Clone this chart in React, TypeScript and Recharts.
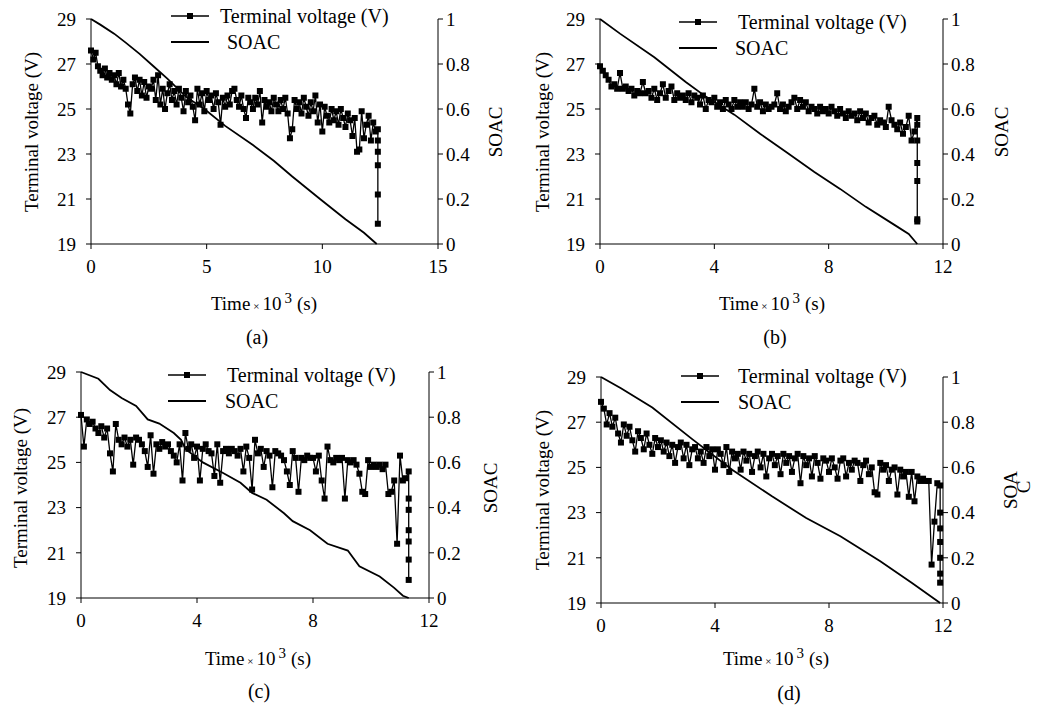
import React from 'react'
import { ComposedChart, Line, XAxis, YAxis } from 'recharts'

const DT = 0.1 // sampling step of the voltage records, x10^3 s

const voltTicks = [19, 21, 23, 25, 27, 29]
const soacTicks = [0, 0.2, 0.4, 0.6, 0.8, 1]
const timeTicksA = [0, 5, 10, 15]
const timeTicks = [0, 4, 8, 12]

// (a)
const aVolt = [
  27.6, 27.2, 27.5, 26.9, 26.7, 26.5, 26.8, 26.4, 26.6, 26.3,
  26.5, 26.1, 26.6, 26.0, 26.3, 25.9, 25.2, 24.8, 26.1, 26.4,
  25.8, 26.3, 25.6, 26.2, 25.5, 26.0, 25.9, 26.3, 25.4, 26.5,
  25.2, 25.9, 25.0, 25.7, 26.1, 25.4, 25.8, 25.2, 25.9, 25.5,
  24.9, 25.8, 25.3, 25.6, 25.1, 24.5, 25.9, 25.2, 25.7, 24.9,
  25.8, 25.4, 25.6, 25.0, 25.7, 25.3, 24.3, 25.5, 25.1, 25.6,
  25.2, 25.8, 25.9, 25.4, 25.1, 25.6, 25.0, 24.6, 25.5, 25.3,
  25.0, 25.5, 25.2, 25.8, 24.4, 25.4, 25.1, 25.3, 24.9, 25.5,
  25.2, 24.9, 25.4, 25.0, 25.5, 24.8, 23.7, 24.1, 25.4, 25.0,
  25.3, 24.8, 25.5, 25.1, 24.7, 25.3, 24.9, 25.6, 24.4, 25.2,
  24.0, 25.1, 24.7, 24.4, 25.0, 24.5, 24.9, 24.3, 25.0, 24.6,
  24.2, 24.8, 24.5, 23.8, 24.6, 23.1, 23.2, 24.9, 23.7, 24.3,
  24.7, 23.6, 24.4, 24.0,
]
const aEndT = 12.4
const aEndVolt = [24.1, 23.6, 23.1, 22.5, 21.2, 19.9]
const aSoacT = [0, 0.4, 1.0, 1.5, 2.1, 2.7, 3.3, 4.1, 4.9, 5.8, 7.0, 7.9, 8.7, 9.9, 11.0, 11.8, 12.35]
const aSoac = [1, 0.975, 0.935, 0.895, 0.845, 0.79, 0.735, 0.655, 0.6, 0.525, 0.44, 0.37, 0.3, 0.2, 0.11, 0.05, 0]

// (b)
const bVolt = [
  26.9, 26.7, 26.5, 26.3, 26.0, 26.1, 25.9, 26.6, 25.9, 26.0,
  25.8, 25.9, 25.6, 25.8, 25.7, 26.2, 25.7, 25.8, 25.5, 25.9,
  25.4, 25.7, 26.1, 25.5, 25.8, 26.0, 25.4, 25.7, 25.5, 25.6,
  25.4, 25.7, 25.3, 25.6, 25.5, 25.2, 25.6, 25.0, 25.4, 25.3,
  25.5, 25.1, 25.3, 25.0, 25.4, 25.2, 25.0, 25.4, 25.1, 25.3,
  25.1, 25.3, 25.0, 25.2, 25.9, 25.1, 25.3, 24.9, 25.2, 25.0,
  25.1, 25.2, 25.7, 25.0, 25.2, 24.9, 25.1, 25.3, 25.5, 25.0,
  25.4, 25.1, 25.3, 24.9, 25.1, 25.0, 24.8, 25.1, 24.9, 25.0,
  24.8, 25.1, 24.9, 24.7, 25.0, 24.8, 24.6, 24.9, 24.7, 24.8,
  24.5, 24.9, 24.6, 24.8, 24.4, 24.6, 24.7, 24.3, 24.5, 24.4,
  24.2, 25.1, 24.5, 24.3, 24.1, 24.4, 23.9, 24.2, 24.7, 23.6,
  24.0,
]
const bEndT = 11.1
const bEndVolt = [24.6, 24.3, 23.6, 22.6, 21.8, 20.1, 20.0]
const bSoacT = [0, 0.7, 1.9, 3.0, 3.7, 4.7, 5.6, 6.5, 7.5, 8.4, 9.3, 10.3, 10.8, 11.1]
const bSoac = [1, 0.935, 0.83, 0.72, 0.655, 0.575, 0.49, 0.41, 0.32, 0.245, 0.165, 0.085, 0.045, 0]

// (c)
const cVolt = [
  27.1, 25.7, 26.9, 26.7, 26.8, 26.5, 26.3, 26.6, 26.1, 26.5,
  25.4, 24.6, 26.7, 26.0, 25.8, 26.1, 25.7, 26.0, 24.9, 26.1,
  26.0, 25.8, 25.5, 24.8, 26.2, 24.5, 25.8, 25.6, 25.9, 25.7,
  25.8, 25.5, 25.3, 25.0, 25.8, 24.2, 26.3, 25.6, 25.8, 25.2,
  25.7, 24.2, 25.6, 25.8, 25.5, 25.4, 24.4, 25.8, 24.1, 25.5,
  25.6, 25.4, 25.6, 25.5, 25.3, 25.6, 24.6, 25.7, 25.2, 23.8,
  26.0, 25.4, 25.6, 24.8, 25.5, 25.3, 23.9, 25.5, 25.4, 25.3,
  25.1, 24.6, 24.0, 25.5, 25.2, 23.7, 25.2, 25.1, 25.3, 25.2,
  25.2, 24.6, 25.3, 24.2, 23.4, 25.7, 25.1, 25.0, 25.2, 25.1,
  25.2, 23.4, 25.1, 25.0, 25.1, 24.9, 24.5, 23.7, 23.6, 25.1,
  24.8, 24.9, 24.8, 24.9, 24.7, 24.9, 23.6, 23.7, 24.2, 21.4,
  25.3, 24.2, 24.3,
]
const cEndT = 11.3
const cEndVolt = [24.6, 23.4, 22.9, 22.0, 21.5, 20.7, 19.8]
const cSoacT = [0, 0.6, 1.0, 1.4, 1.9, 2.3, 2.7, 3.2, 3.45, 3.6, 4.2, 4.9, 5.5, 5.9, 6.4, 7.0, 7.3, 7.9, 8.5, 9.2, 9.6, 10.3, 10.8, 11.1, 11.3]
const cSoac = [1, 0.97, 0.92, 0.885, 0.85, 0.79, 0.772, 0.73, 0.7, 0.66, 0.6, 0.553, 0.51, 0.465, 0.435, 0.375, 0.34, 0.3, 0.24, 0.21, 0.14, 0.095, 0.045, 0.01, 0]

// (d)
const dVolt = [
  27.9, 27.6, 26.9, 27.4, 26.8, 27.2, 26.5, 26.1, 26.9, 26.4,
  26.8, 26.2, 25.7, 26.6, 26.3, 25.8, 26.5, 26.0, 25.6, 26.3,
  25.9, 26.2, 25.7, 26.1, 25.5, 26.0, 25.2, 25.9, 26.1, 25.4,
  26.0, 25.1, 25.8, 25.9, 25.4, 25.7, 25.2, 25.9, 25.5, 25.8,
  24.9, 25.8, 25.6, 25.1, 25.9, 24.8, 25.7, 25.4, 25.6, 24.9,
  25.7, 25.3, 25.6, 24.8, 25.5, 25.7, 25.0, 25.6, 24.6, 25.4,
  25.6, 25.1, 25.5, 24.7, 25.6, 25.2, 25.5, 24.8, 25.4, 25.6,
  24.3, 25.5, 25.1, 25.4, 24.6, 25.5, 25.2, 24.5, 25.4, 25.3,
  24.8, 25.4, 25.0, 24.5, 25.3, 25.4, 24.6, 25.2, 24.9, 25.3,
  25.2, 24.4, 25.1, 25.3, 24.7, 25.0, 23.9, 23.8, 25.2, 24.9,
  25.1, 24.4, 24.9, 25.0, 23.8, 24.9, 24.6, 24.8, 23.7, 24.8,
  23.5, 24.6, 24.4, 24.5, 24.4, 24.4, 20.7, 22.6, 24.3,
]
const dEndT = 11.9
const dEndVolt = [24.2, 23.0, 22.3, 21.7, 21.0, 20.3, 19.9]
const dSoacT = [0, 0.7, 1.8, 3.2, 4.6, 6.0, 7.2, 8.4, 9.8, 10.9, 11.9]
const dSoac = [1, 0.95, 0.865, 0.725, 0.59, 0.472, 0.376, 0.295, 0.185, 0.09, 0]

const FONT = '"Liberation Serif", "DejaVu Serif", serif'

type Box = { x0: number; x1: number; y0: number; y1: number }

const voltRows = (vals: number[], endT: number, endVals: number[]) => [
  ...vals.map((v, i) => ({ t: Math.round(i * DT * 100) / 100, v })),
  ...endVals.map((v) => ({ t: endT, v })),
]
const soacRows = (ts: number[], ss: number[]) => ts.map((t, i) => ({ t, s: ss[i] }))

const SquareDot = (p: any) => (
  <rect key={`sq-${p.index}`} x={p.cx - 3} y={p.cy - 3} width={6} height={6} fill="#000" />
)

const tickStyle = { fill: '#000', fontSize: 19, fontFamily: FONT }

function Panel({ box, xMax, xTicks, volt, soac }: { box: Box; xMax: number; xTicks: number[]; volt: any[]; soac: any[] }) {
  const W = box.x1 - box.x0 + 180
  const H = box.y1 - box.y0 + 60
  return (
    <div style={{ position: 'absolute', left: box.x0 - 90, top: box.y0 - 20 }}>
      <ComposedChart width={W} height={H} margin={{ top: 20, right: 30, bottom: 10, left: 30 }}>
        <XAxis
          type="number" dataKey="t" domain={[0, xMax]} ticks={xTicks} interval={0}
          height={30} tickSize={5} tickMargin={11} stroke="#000" tick={tickStyle}
        />
        <YAxis
          yAxisId="v" domain={[19, 29]} ticks={voltTicks} interval={0}
          width={60} tickSize={5} tickMargin={10} stroke="#000" tick={tickStyle}
        />
        <YAxis
          yAxisId="s" orientation="right" domain={[0, 1]} ticks={soacTicks} interval={0}
          width={60} tickSize={5} tickMargin={3} stroke="#000" tick={tickStyle}
          tickFormatter={(v) => String(v)}
        />
        <Line yAxisId="s" data={soac} dataKey="s" type="linear" stroke="#000" strokeWidth={1.8} dot={false} isAnimationActive={false} />
        <Line yAxisId="v" data={volt} dataKey="v" type="linear" stroke="#000" strokeWidth={1.3} dot={SquareDot} isAnimationActive={false} />
      </ComposedChart>
    </div>
  )
}

function TimeTitle({ x, y }: { x: number; y: number }) {
  return (
    <text x={x} y={y} textAnchor="middle" fontSize={19}>
      Time<tspan fontSize={11} dx={3}>×</tspan><tspan dx={3}>10</tspan>
      <tspan fontSize={15} dx={3} dy={-7}>3</tspan><tspan dy={7} dx={5}>(s)</tspan>
    </text>
  )
}

function LegendBox({ lx, ly, tx, sTx }: { lx: number; ly: number; tx: number; sTx: number }) {
  return (
    <g>
      <line x1={lx} x2={lx + 38} y1={ly} y2={ly} stroke="#000" strokeWidth={1.3} />
      <rect x={lx + 16} y={ly - 3} width={6} height={6} fill="#000" />
      <text x={tx} y={ly + 7} fontSize={20}>Terminal voltage (V)</text>
      <line x1={lx} x2={lx + 38} y1={ly + 26} y2={ly + 26} stroke="#000" strokeWidth={1.8} />
      <text x={sTx} y={ly + 33} fontSize={20}>SOAC</text>
    </g>
  )
}

function VTitle({ x, y, label }: { x: number; y: number; label: string }) {
  return (
    <text x={x} y={y} transform={`rotate(-90 ${x} ${y})`} textAnchor="middle" fontSize={19}>
      {label}
    </text>
  )
}

export default function App() {
  const boxA = { x0: 91, x1: 438, y0: 19, y1: 244 }
  const boxB = { x0: 600, x1: 943, y0: 19, y1: 244 }
  const boxC = { x0: 81, x1: 429, y0: 372, y1: 598 }
  const boxD = { x0: 601, x1: 943, y0: 377, y1: 603 }

  return (
    <div style={{ position: 'absolute', left: 0, top: 0, width: 1051, height: 710, background: '#fff', fontFamily: FONT }}>
      <Panel box={boxA} xMax={15} xTicks={timeTicksA} volt={voltRows(aVolt, aEndT, aEndVolt)} soac={soacRows(aSoacT, aSoac)} />
      <Panel box={boxB} xMax={12} xTicks={timeTicks} volt={voltRows(bVolt, bEndT, bEndVolt)} soac={soacRows(bSoacT, bSoac)} />
      <Panel box={boxC} xMax={12} xTicks={timeTicks} volt={voltRows(cVolt, cEndT, cEndVolt)} soac={soacRows(cSoacT, cSoac)} />
      <Panel box={boxD} xMax={12} xTicks={timeTicks} volt={voltRows(dVolt, dEndT, dEndVolt)} soac={soacRows(dSoacT, dSoac)} />

      <svg width={1051} height={710} style={{ position: 'absolute', left: 0, top: 0, pointerEvents: 'none' }} fontFamily={FONT} fill="#000">
        {/* (a) */}
        <LegendBox lx={171} ly={16} tx={220} sTx={227} />
        <VTitle x={38} y={132} label="Terminal voltage (V)" />
        <VTitle x={502} y={132} label="SOAC" />
        <TimeTitle x={264} y={310} />
        <text x={257} y={344} textAnchor="middle" fontSize={20}>(a)</text>

        {/* (b) */}
        <LegendBox lx={679} ly={22} tx={738} sTx={735} />
        <VTitle x={549} y={132} label="Terminal voltage (V)" />
        <VTitle x={1008} y={132} label="SOAC" />
        <TimeTitle x={772} y={310} />
        <text x={775} y={344} textAnchor="middle" fontSize={20}>(b)</text>

        {/* (c) */}
        <LegendBox lx={168} ly={375} tx={227} sTx={225} />
        <VTitle x={27} y={488} label="Terminal voltage (V)" />
        <VTitle x={497} y={488} label="SOAC" />
        <TimeTitle x={258} y={665} />
        <text x={259} y={698} textAnchor="middle" fontSize={20}>(c)</text>

        {/* (d) */}
        <LegendBox lx={681} ly={376} tx={738} sTx={738} />
        <VTitle x={549} y={490} label="Terminal voltage (V)" />
        <VTitle x={1017} y={490} label="SOA" />
        <VTitle x={1030} y={487} label="C" />
        <TimeTitle x={776} y={665} />
        <text x={789} y={700} textAnchor="middle" fontSize={20}>(d)</text>
      </svg>
    </div>
  )
}
